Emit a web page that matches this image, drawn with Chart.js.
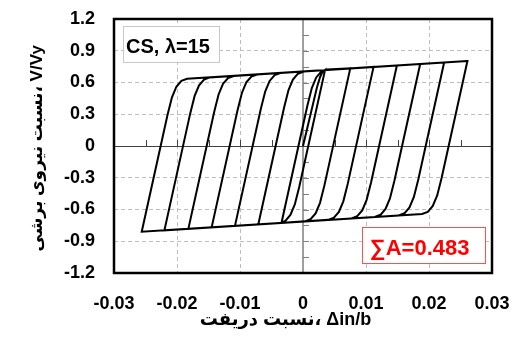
<!DOCTYPE html>
<html>
<head>
<meta charset="utf-8">
<script src="https://cdn.jsdelivr.net/npm/chart.js@4.4.0/dist/chart.umd.min.js"></script>
<style>
  body { margin: 0; background: #fff; }
  #wrap { width: 521px; height: 343px; }
</style>
</head>
<body>
<div id="wrap"><canvas id="chart" width="521" height="343"></canvas></div>
<script>
/** DATA */
const xTickLabels = ['-0.03', '-0.02', '-0.01', '0', '0.01', '0.02', '0.03'];
const yTickLabels = ['-1.2', '-0.9', '-0.6', '-0.3', '0', '0.3', '0.6', '0.9', '1.2'];

// hysteresis path, drift ratio (one line per branch)
const driftRatio = [
    0, 0.0022, 0.0027, 0.0031, 0.0035,
    -0.0006, -0.0013, -0.0020, -0.0028, -0.0034,
    0.0007, 0.0014, 0.0021, 0.0029, 0.0038, 0.0075,
    0.0034, 0.0027, 0.0020, 0.0012, 0.0003, -0.0071,
    -0.0030, -0.0023, -0.0016, -0.0008, 0.0001, 0.0112,
    0.0071, 0.0064, 0.0057, 0.0049, 0.0040, -0.0108,
    -0.0067, -0.0060, -0.0053, -0.0045, -0.0036, 0.0149,
    0.0108, 0.0101, 0.0094, 0.0086, 0.0077, -0.0145,
    -0.0104, -0.0097, -0.0090, -0.0082, -0.0073, 0.0186,
    0.0145, 0.0138, 0.0131, 0.0123, 0.0114, -0.0182,
    -0.0141, -0.0134, -0.0127, -0.0119, -0.0110, 0.0224,
    0.0183, 0.0176, 0.0169, 0.0161, 0.0152, -0.0220,
    -0.0179, -0.0172, -0.0165, -0.0157, -0.0148, 0.0261,
    0.0220, 0.0213, 0.0206, 0.0198, 0.0189, -0.0256,
    -0.0215, -0.0208, -0.0201, -0.0193, -0.0184, 0.0261
];

// hysteresis path, shear ratio V/Vy (same order)
const shearRatio = [
    0, 0.55, 0.65, 0.70, 0.718,
    -0.387, -0.552, -0.652, -0.707, -0.722,
    0.383, 0.548, 0.648, 0.703, 0.723, 0.733,
    -0.372, -0.537, -0.637, -0.692, -0.712, -0.742,
    0.363, 0.528, 0.628, 0.683, 0.703, 0.747,
    -0.358, -0.523, -0.623, -0.678, -0.698, -0.755,
    0.350, 0.515, 0.615, 0.670, 0.690, 0.761,
    -0.344, -0.509, -0.609, -0.664, -0.684, -0.769,
    0.336, 0.501, 0.601, 0.656, 0.676, 0.775,
    -0.330, -0.495, -0.595, -0.650, -0.670, -0.783,
    0.322, 0.487, 0.587, 0.642, 0.662, 0.789,
    -0.316, -0.481, -0.581, -0.636, -0.656, -0.797,
    0.308, 0.473, 0.573, 0.628, 0.648, 0.803,
    -0.302, -0.467, -0.567, -0.622, -0.642, -0.810,
    0.295, 0.460, 0.560, 0.615, 0.635, 0.803
];

const caseLabel = 'CS, λ=15';
const areaLabel = '∑A=0.483';
const xTitle = 'نسبت دریفت، Δin/b\u00A0\u00A0\u00A0\u00A0\u00A0\u00A0\u00A0';
const yTitle = 'نسبت نیروی برشی، V/Vy\u00A0';

const FONT = "'Liberation Sans', 'DejaVu Sans', sans-serif";

/** PLUGINS */
// zero axes with small tick marks, drawn under the curve
const zeroAxes = {
    id: 'zeroAxes',
    beforeDatasetsDraw(chart) {
        const { ctx, chartArea: a, scales: { x, y } } = chart;
        const x0 = x.getPixelForValue(0);
        const y0 = y.getPixelForValue(0);
        ctx.save();
        ctx.strokeStyle = '#7f7f7f';
        ctx.lineWidth = 1.5;
        ctx.beginPath();
        ctx.moveTo(x0, a.top);
        ctx.lineTo(x0, a.bottom);
        ctx.stroke();

        ctx.lineWidth = 1;
        for (let v = -1.05; v < 1.1; v += 0.15) {
            const py = Math.round(y.getPixelForValue(v)) + 0.5;
            ctx.beginPath();
            ctx.moveTo(x0, py);
            ctx.lineTo(x0 + 6, py);
            ctx.stroke();
        }

        ctx.strokeStyle = '#404040';
        ctx.beginPath();
        ctx.moveTo(a.left, Math.round(y0) + 0.5);
        ctx.lineTo(a.right, Math.round(y0) + 0.5);
        ctx.stroke();
        for (let v = -0.025; v < 0.026; v += 0.005) {
            const px = Math.round(x.getPixelForValue(v)) + 0.5;
            ctx.beginPath();
            ctx.moveTo(px, y0);
            ctx.lineTo(px, y0 - 6);
            ctx.stroke();
        }
        ctx.restore();
    }
};

// thick frame and the two text boxes
const frameAndNotes = {
    id: 'frameAndNotes',
    afterDraw(chart) {
        const { ctx, chartArea: a } = chart;
        ctx.save();
        ctx.strokeStyle = '#000';
        ctx.lineWidth = 2.5;
        ctx.strokeRect(a.left, a.top, a.right - a.left, a.bottom - a.top);

        // case label, top left
        ctx.fillStyle = '#fff';
        ctx.fillRect(a.left + 9, a.top + 7, 96, 36);
        ctx.strokeStyle = '#c8c8c8';
        ctx.lineWidth = 1;
        ctx.strokeRect(a.left + 9.5, a.top + 7.5, 96, 36);
        ctx.fillStyle = '#000';
        ctx.font = 'bold 20px ' + FONT;
        ctx.textBaseline = 'alphabetic';
        ctx.fillText(caseLabel, a.left + 12, a.top + 34);

        // area label, bottom right
        ctx.fillStyle = '#fff';
        ctx.fillRect(a.right - 130, a.bottom - 46, 123, 36);
        ctx.strokeStyle = '#ff5050';
        ctx.strokeRect(a.right - 130 + 0.5, a.bottom - 46 + 0.5, 123, 36);
        ctx.fillStyle = '#ff0000';
        ctx.font = 'bold 22px ' + FONT;
        ctx.fillText(areaLabel, a.right - 122, a.bottom - 18);
        ctx.restore();
    }
};

/** CHART */
const points = driftRatio.map((d, i) => ({ x: d, y: shearRatio[i] }));

function gridColor(ctx) {
    if (!ctx.tick) return 'rgba(0,0,0,0)';
    const v = ctx.tick.value;
    if (Math.abs(v) < 1e-9) return 'rgba(0,0,0,0)';
    if (ctx.index === 0 || ctx.index === ctx.scale.ticks.length - 1) return 'rgba(0,0,0,0)';
    return '#bdbdbd';
}

new Chart(document.getElementById('chart'), {
    type: 'scatter',
    data: {
        datasets: [{
            data: points,
            showLine: true,
            borderColor: '#000',
            borderWidth: 2,
            pointRadius: 0,
            tension: 0,
            fill: false
        }]
    },
    options: {
        responsive: false,
        animation: false,
        layout: { padding: { top: 19, right: 29, left: 0, bottom: 0 } },
        plugins: { legend: { display: false }, tooltip: { enabled: false } },
        scales: {
            x: {
                type: 'linear',
                min: -0.03,
                max: 0.03,
                afterFit(scale) { scale.height = 70; },
                ticks: {
                    stepSize: 0.01,
                    maxRotation: 0,
                    autoSkip: false,
                    padding: 2,
                    color: '#000',
                    font: { family: FONT, size: 18, weight: 'bold' },
                    callback: (value) => xTickLabels[Math.round((value + 0.03) / 0.01)]
                },
                grid: { color: gridColor, drawTicks: true, tickLength: 18, tickColor: 'rgba(0,0,0,0)', lineWidth: 1 },
                border: { display: false, dash: [4, 3] },
                title: {
                    display: true,
                    text: xTitle,
                    color: '#000',
                    font: { family: FONT, size: 18, weight: 'bold' },
                    padding: { top: 0, bottom: 12 }
                }
            },
            y: {
                type: 'linear',
                min: -1.2,
                max: 1.2,
                afterFit(scale) { scale.width = 114; },
                ticks: {
                    stepSize: 0.3,
                    padding: 2,
                    color: '#000',
                    font: { family: FONT, size: 18, weight: 'bold' },
                    callback: (value) => yTickLabels[Math.round((value + 1.2) / 0.3)]
                },
                grid: { color: gridColor, drawTicks: true, tickLength: 17, tickColor: 'rgba(0,0,0,0)', lineWidth: 1 },
                border: { display: false, dash: [4, 3] },
                title: {
                    display: true,
                    text: yTitle,
                    color: '#000',
                    font: { family: FONT, size: 17, weight: 'bold' },
                    padding: { top: 27, bottom: 0 }
                }
            }
        }
    },
    plugins: [zeroAxes, frameAndNotes]
});
</script>
</body>
</html>
